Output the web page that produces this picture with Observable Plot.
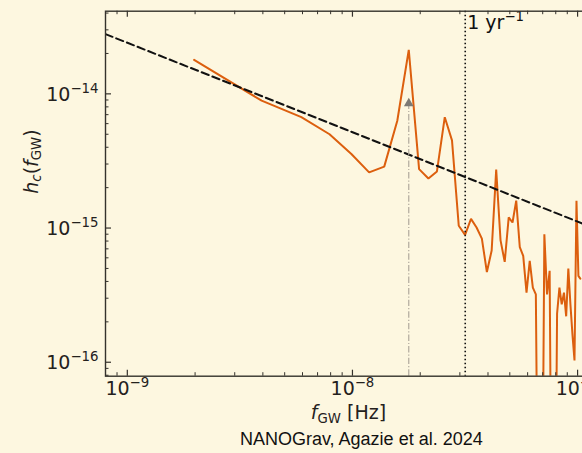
<!DOCTYPE html>
<html>
<head>
<meta charset="utf-8">
<script src="https://cdn.jsdelivr.net/npm/d3@7"></script>
<script src="https://cdn.jsdelivr.net/npm/@observablehq/plot@0.6"></script>
<style>
  html, body { margin: 0; padding: 0; background: #fdf7e0; overflow: hidden; }
</style>
</head>
<body>
<div id="chart"></div>
<script>
// Characteristic strain of the free spectrum, sampled at harmonics k/T of the observing span
const freqHz = [
  1.98e-9, 3.95e-9, 5.93e-9, 7.91e-9, 9.89e-9, 1.186e-8, 1.384e-8, 1.582e-8, 1.779e-8, 1.977e-8,
  2.175e-8, 2.373e-8, 2.571e-8, 2.768e-8, 2.966e-8, 3.164e-8, 3.362e-8, 3.559e-8, 3.757e-8, 3.955e-8,
  4.153e-8, 4.350e-8, 4.548e-8, 4.746e-8, 4.944e-8, 5.141e-8, 5.339e-8, 5.537e-8, 5.735e-8, 5.932e-8,
  6.130e-8, 6.328e-8, 6.526e-8, 6.723e-8, 6.921e-8, 7.119e-8, 7.317e-8, 7.515e-8, 7.712e-8, 7.910e-8,
  8.108e-8, 8.306e-8, 8.503e-8, 8.701e-8, 8.899e-8, 9.097e-8, 9.294e-8, 9.492e-8, 9.690e-8, 9.888e-8,
  1.0085e-7, 1.0283e-7
];
const strain = [
  1.79e-14, 8.9e-15, 6.7e-15, 5.0e-15, 3.56e-15, 2.6e-15, 2.87e-15, 6.3e-15, 2.13e-14, 2.75e-15,
  2.34e-15, 2.64e-15, 6.7e-15, 4.5e-15, 1.04e-15, 8.9e-16, 1.17e-15, 1.01e-15, 8.35e-16, 4.7e-16,
  6.8e-16, 2.73e-15, 8.1e-16, 5.6e-16, 1.2e-15, 1.1e-15, 1.6e-15, 7.2e-16, 6.2e-16, 3.3e-16,
  5.7e-16, 3.6e-16, 3.2e-16, 1e-18, 1e-18, 9.0e-16, 3.2e-16, 4.8e-16, 1e-18, 1e-18,
  2.3e-16, 3.6e-16, 2.7e-16, 3.3e-16, 2.2e-16, 5.0e-16, 2.7e-16, 1.6e-16, 1.03e-16, 1.6e-15,
  4.4e-16, 4.2e-16
];

// Power-law background (gamma = 13/3), given by its end points
const powerLawF = [8.0e-10, 1.3e-7];
const powerLawH = [2.79e-14, 9.37e-16];

// One cycle per year, and the marked bin
const fYear = 3.169e-8;
const arrowF = 1.779e-8;
const arrowTip = 9.34e-15;

// Axis ticks
const xMajor = [1e-9, 1e-8, 1e-7];
const xMajorLabels = ["10^{−9}", "10^{−8}", "10^{−7}"];
const xMinor = [9e-10, 2e-9, 3e-9, 4e-9, 5e-9, 6e-9, 7e-9, 8e-9, 9e-9,
                2e-8, 3e-8, 4e-8, 5e-8, 6e-8, 7e-8, 8e-8, 9e-8];
const yMajor = [1e-16, 1e-15, 1e-14];
const yMajorLabels = ["10^{−16}", "10^{−15}", "10^{−14}"];
const yMinor = [8e-17, 9e-17, 2e-16, 3e-16, 4e-16, 5e-16, 6e-16, 7e-16, 8e-16, 9e-16,
                2e-15, 3e-15, 4e-15, 5e-15, 6e-15, 7e-15, 8e-15, 9e-15, 2e-14, 3e-14, 4e-14];

const xLabel = "*f*_{GW} [Hz]";
const yLabel = "*h*_{*c*}(*f*_{GW})";
const yearLabel = "1 yr^{−1}";
const credit = "NANOGrav, Agazie et al. 2024";

const W = 600, H = 453;
const mL = 105, mR = 9, mT = 10.7, mB = 77.3;
const fw = W - mL - mR, fh = H - mT - mB;
const ink = "#35322c";
const bg = "#fdf7e0";

const spectrum = freqHz.map((f, i) => ({f, h: strain[i]}));
const powerLaw = powerLawF.map((f, i) => ({f, h: powerLawH[i]}));

const chart = Plot.plot({
  width: W,
  height: H,
  marginLeft: mL,
  marginRight: mR,
  marginTop: mT,
  marginBottom: mB,
  style: {background: bg, fontFamily: "DejaVu Sans", fontSize: "19px", color: "#24211d", maxWidth: "none", overflow: "visible"},
  x: {type: "log", domain: [8.0e-10, 1.153e-7], axis: null},
  y: {type: "log", domain: [7.87e-17, 4.13e-14], axis: null},
  marks: [
    Plot.line(spectrum, {x: "f", y: "h", stroke: "#dc5f0e", strokeWidth: 2, strokeLinejoin: "miter", clip: true}),
    Plot.line(powerLaw, {x: "f", y: "h", stroke: "#111", strokeWidth: 2, strokeDasharray: "7.5,4", clip: true}),
    Plot.ruleX([fYear], {stroke: "#111", strokeWidth: 1.6, strokeDasharray: "1.6,2.4"}),
    Plot.ruleX([arrowF], {y1: 7.87e-17, y2: arrowTip, stroke: "#aaa397", strokeWidth: 1.1, strokeDasharray: "6.4,2,1.2,2"}),
    Plot.dot([arrowF], {x: d => d, y: arrowTip, dy: 5.6, symbol: "triangle", r: 3.6, fill: "#7d7a74", stroke: "none"}),
    Plot.text([yearLabel], {text: d => d, x: fYear, frameAnchor: "top", textAnchor: "start", lineAnchor: "bottom", dx: 2, dy: 17.6, fill: "#111"}),

    // Spines and inward ticks
    Plot.frame({stroke: ink, strokeWidth: 1.4}),
    Plot.tickX(xMajor, {x: d => d, insetTop: fh - 6, stroke: ink, strokeWidth: 1.2}),
    Plot.tickX(xMinor, {x: d => d, insetTop: fh - 3.5, stroke: ink, strokeWidth: 1}),
    Plot.tickX(xMajor, {x: d => d, insetBottom: fh - 6, stroke: ink, strokeWidth: 1.2}),
    Plot.tickX(xMinor, {x: d => d, insetBottom: fh - 3.5, stroke: ink, strokeWidth: 1}),
    Plot.tickY(yMajor, {y: d => d, insetRight: fw - 6, stroke: ink, strokeWidth: 1.2}),
    Plot.tickY(yMinor, {y: d => d, insetRight: fw - 3.5, stroke: ink, strokeWidth: 1}),

    // Tick labels
    Plot.text(xMajor, {x: d => d, text: (d, i) => xMajorLabels[i], frameAnchor: "bottom", lineAnchor: "bottom", dy: 18.8}),
    Plot.text(yMajor, {y: d => d, text: (d, i) => yMajorLabels[i], frameAnchor: "left", textAnchor: "end", lineAnchor: "bottom", dx: -7, dy: 6.8}),

    // Axis titles and credit
    Plot.text([xLabel], {text: d => d, frameAnchor: "bottom", lineAnchor: "bottom", dy: 43}),
    Plot.text([yLabel], {text: d => d, frameAnchor: "left", rotate: -90, lineAnchor: "bottom", dx: -68}),
    Plot.text([credit], {text: d => d, frameAnchor: "bottom", lineAnchor: "bottom", dx: 12.8, dy: 69,
      fontFamily: "Liberation Sans", fontSize: 18, fill: "#111"})
  ]
});

// Turn ^{...} / _{...} / *...* markup into superscript, subscript and italic tspans
function typeset(node, base) {
  const src = node.textContent;
  if (!/[\^_*]/.test(src)) return;
  node.textContent = "";
  const parts = [];
  const re = /([\^_])\{([^}]*)\}|([^\^_]+)/g;
  let m;
  while ((m = re.exec(src))) {
    if (m[3] !== undefined) parts.push({s: m[3], mode: 0});
    else parts.push({s: m[2], mode: m[1] === "^" ? 1 : -1});
  }
  let shift = 0, italic = false;
  for (const p of parts) {
    const target = p.mode === 1 ? -base * 0.4 : p.mode === -1 ? base * 0.2 : 0;
    const size = p.mode ? base * 0.7 : base;
    p.s.split("*").forEach((txt, i) => {
      if (i > 0) italic = !italic;
      if (!txt) return;
      const t = d3.select(node).append("tspan").attr("font-size", size).text(txt);
      if (italic) t.attr("font-style", "italic");
      if (target !== shift) { t.attr("dy", target - shift); shift = target; }
    });
  }
}
d3.select(chart).selectAll("text").each(function () { typeset(this, 19); });

document.getElementById("chart").appendChild(chart);
</script>
</body>
</html>
